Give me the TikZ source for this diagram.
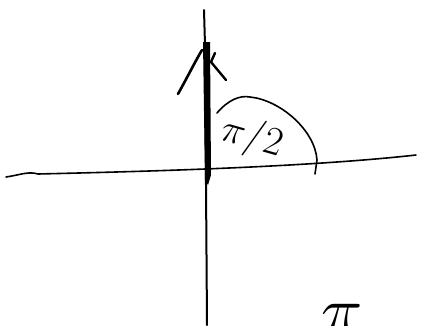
\RequirePackage{fix-cm}
\documentclass[tikz,border=0pt]{standalone}
\begin{document}
\begin{tikzpicture}[x=1pt,y=-1pt,
  pen/.style={line width=2pt,line cap=round,line join=round,black},
  thinpen/.style={line width=1.6pt,line cap=round,black}]
\useasboundingbox (0,0) rectangle (423,325);
\clip (0,0) rectangle (423,325);
% horizontal axis
\draw[thinpen] (6,177) .. controls (20,175) and (28,171) .. (38,174)
  .. controls (120,172) and (300,168) .. (416,155);
% vertical axis (thick)
\draw[pen] (204,10) -- (205,45) -- (207,325);
\fill[black] (203,42) -- (210,42) -- (211,175) -- (208,185) -- (205,180) -- cycle;
% arrow head strokes
\draw[pen,line width=2.6pt] (178,94) .. controls (188,76) and (196,60) .. (202,50);
\draw[pen,line width=2.4pt] (215,53) -- (211,62) -- (226,80);
% angle arc
\draw[thinpen] (217,113) .. controls (228,100) and (240,95) .. (250,97)
  .. controls (280,100) and (315,130) .. (317,160) -- (315,174);
% label
\node[rotate=-16,font=\fontsize{40}{40}\selectfont,inner sep=0pt] (lab) at (252,138) {$\pi/2$};
% partial label at bottom (cut off at the edge, as in the reference)
\node[font=\fontsize{70}{70}\selectfont,anchor=north,inner sep=0pt] (cut) at (342,304) {$\pi$};
\end{tikzpicture}
\end{document}
